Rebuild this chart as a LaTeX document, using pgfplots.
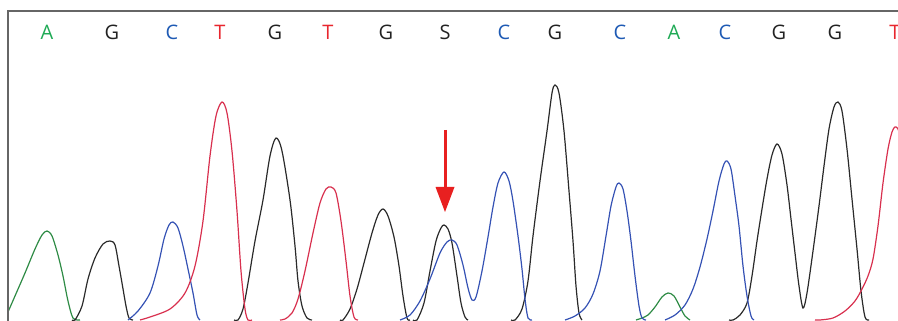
\documentclass[border=0pt]{standalone}
\usepackage{pgfplots}
\pgfplotsset{compat=1.18}
\usepackage{fontspec}
\setmainfont{Open Sans}
\definecolor{tgreen}{HTML}{2E8B45}
\definecolor{tblack}{HTML}{2A2A2A}
\definecolor{tblue}{HTML}{3552B4}
\definecolor{tred}{HTML}{D8304E}
\definecolor{lgreen}{HTML}{1FAA55}
\definecolor{lblue}{HTML}{1E5AB4}
\definecolor{lred}{HTML}{E8262E}
\definecolor{lblack}{HTML}{222222}
\definecolor{arr}{HTML}{E82020}
\tikzset{base/.style={font=\fontsize{20}{20}\selectfont, inner sep=0pt}}
\begin{document}
\begin{tikzpicture}
\begin{axis}[
  scale only axis, width=898pt, height=321pt,
  xmin=0, xmax=898, ymin=0, ymax=321,
  hide axis, clip=true,
]
\path (axis cs:0,0) rectangle (axis cs:898,321);
% green
\addplot[tgreen, line width=1.2pt, smooth, tension=0.5] coordinates {(8,9) (15,25) (25,48) (35,72) (42,86) (47,90) (52,85) (58,66) (63,45) (68,20) (73,3) (80,1)};
\addplot[tgreen, line width=1.2pt, smooth, tension=0.5] coordinates {(636,1) (642,3) (648,6) (655,14) (662,24) (668,28) (674,25) (680,14) (685,5) (690,1)};
% black
\addplot[tblack, line width=1.2pt, smooth, tension=0.5] coordinates {(72,1) (75,1) (82,15) (88,42) (95,63) (103,77) (110,80) (115,76) (119,55) (122,38) (126,15) (129,3) (133,1)};
\addplot[tblack, line width=1.2pt, smooth, tension=0.5] coordinates {(234,1) (238,1) (243,12) (248,38) (255,80) (263,121) (270,165) (276,183) (282,170) (290,121) (295,75) (298,40) (302,15) (307,3) (312,1)};
\addplot[tblack, line width=1.2pt, smooth, tension=0.5] coordinates {(340,1) (343,1) (350,12) (357,32) (364,58) (372,88) (378,106) (383,112) (388,105) (394,84) (399,55) (403,25) (407,3) (410,1)};
\addplot[tblack, line width=1.2pt, smooth, tension=0.5] coordinates {(413,1) (417,1) (424,18) (430,50) (436,80) (441,93) (444,96) (448,92) (452,78) (457,45) (461,18) (465,4) (468,1)};
\addplot[tblack, line width=1.2pt, smooth, tension=0.5] coordinates {(511,1) (515,1) (522,12) (528,40) (533,85) (540,140) (547,190) (552,228) (555,236) (559,228) (564,190) (569,130) (573,80) (576,35) (579,8) (582,1)};
\addplot[tblack, line width=1.2pt, smooth, tension=0.5] coordinates {(729,1) (733,1) (740,6) (747,18) (752,45) (757,80) (762,112) (767,142) (772,166) (777,177) (782,167) (787,136) (791,102) (795,68) (799,35) (803,13) (807,28) (813,70) (819,115) (824,155) (829,192) (834,214) (838,219) (842,210) (847,172) (852,122) (857,72) (861,30) (865,4) (869,1)};
% blue
\addplot[tblue, line width=1.2pt, smooth, tension=0.5] coordinates {(128,1) (138,10) (150,28) (158,55) (164,82) (169,96) (173,99) (178,93) (183,75) (188,52) (193,28) (197,6) (200,1)};
\addplot[tblue, line width=1.2pt, smooth, tension=0.5] coordinates {(400,1) (410,6) (420,20) (430,42) (440,68) (447,79) (452,81) (457,76) (463,56) (468,33) (472,21) (476,24) (482,50) (488,84) (493,114) (498,138) (504,149) (509,140) (513,120) (518,85) (522,52) (525,22) (528,3) (532,1)};
\addplot[tblue, line width=1.2pt, smooth, tension=0.5] coordinates {(565,1) (575,5) (585,13) (593,27) (600,50) (606,85) (611,115) (616,134) (619,138) (623,132) (627,110) (631,80) (635,45) (639,15) (642,3) (646,1)};
\addplot[tblue, line width=1.2pt, smooth, tension=0.5] coordinates {(665,1) (675,6) (685,16) (693,32) (700,54) (707,82) (713,110) (719,140) (724,157) (727,160) (731,152) (735,125) (739,95) (743,55) (747,25) (751,5) (754,1)};
% red
\addplot[tred, line width=1.2pt, smooth, tension=0.5] coordinates {(140,1) (150,4) (170,12) (185,28) (195,55) (203,100) (210,165) (216,205) (222,219) (227,208) (232,170) (237,110) (241,50) (245,12) (248,1) (252,1)};
\addplot[tred, line width=1.2pt, smooth, tension=0.5] coordinates {(280,1) (285,2) (292,8) (298,22) (305,50) (313,88) (320,118) (326,132) (331,134) (336,128) (341,100) (346,60) (350,25) (354,4) (358,1)};
\addplot[tred, line width=1.2pt, smooth, tension=0.5] coordinates {(815,1) (820,1) (833,3) (845,10) (855,20) (862,32) (868,45) (873,62) (878,95) (883,138) (888,172) (892,189) (895,194) (898,192) (902,180)};
% frame
\draw[gray!80!black, line width=1.3pt] (axis cs:8,0) -- (axis cs:8,310) -- (axis cs:898,310);
% base letters
\node[base, text=lgreen] at (axis cs:47,289) {A};
\node[base, text=lblack] at (axis cs:112,289) {G};
\node[base, text=lblue] at (axis cs:172,289) {C};
\node[base, text=lred] at (axis cs:220,289) {T};
\node[base, text=lblack] at (axis cs:275,289) {G};
\node[base, text=lred] at (axis cs:328,289) {T};
\node[base, text=lblack] at (axis cs:386,289) {G};
\node[base, text=lblack] at (axis cs:445,289) {S};
\node[base, text=lblue] at (axis cs:504,289) {C};
\node[base, text=lblack] at (axis cs:555,289) {G};
\node[base, text=lblue] at (axis cs:620,289) {C};
\node[base, text=lgreen] at (axis cs:674,289) {A};
\node[base, text=lblue] at (axis cs:725,289) {C};
\node[base, text=lblack] at (axis cs:779,289) {G};
\node[base, text=lblack] at (axis cs:835,289) {G};
\node[base, text=lred] at (axis cs:895,289) {T};
% arrow
\draw[arr, line width=3pt] (axis cs:445,191) -- (axis cs:445,130);
\fill[arr] (axis cs:435.5,134) -- (axis cs:454.5,134) -- (axis cs:445,109) -- cycle;
\end{axis}
\end{tikzpicture}
\end{document}
